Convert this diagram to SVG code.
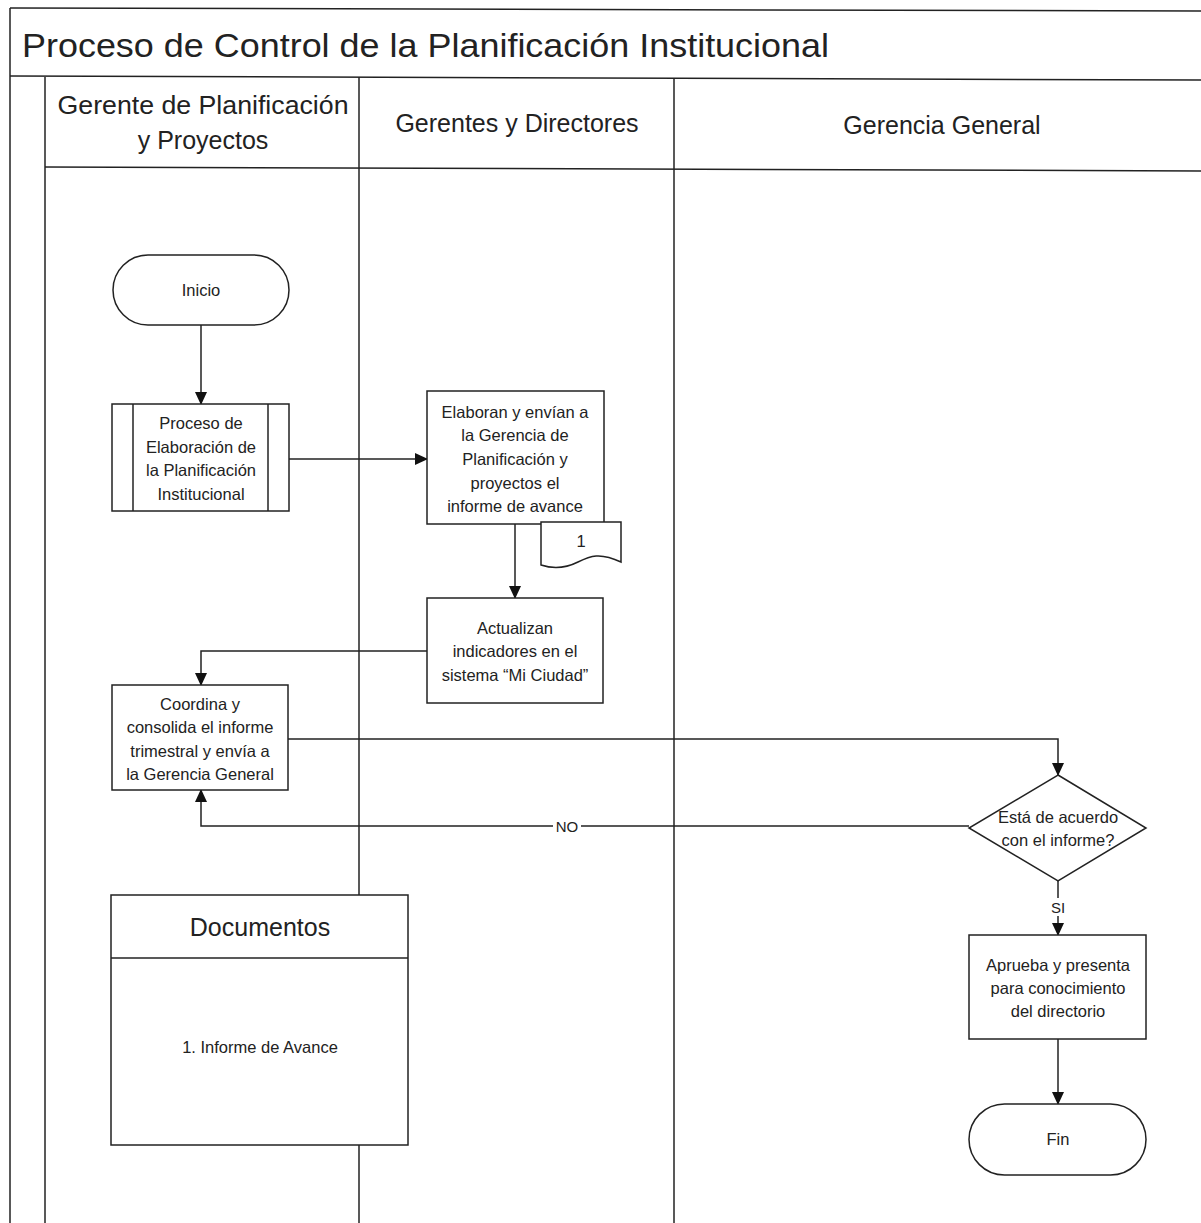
<svg xmlns="http://www.w3.org/2000/svg" width="1201" height="1223" viewBox="0 0 1201 1223">
<style>
.ln{stroke:#222;stroke-width:1.5;fill:none}
.box{stroke:#222;stroke-width:1.5;fill:#fff}
.t{font-family:"Liberation Sans",Arial,sans-serif;fill:#222;text-anchor:middle;font-size:16.5px}
.h{font-family:"Liberation Sans",Arial,sans-serif;fill:#222;text-anchor:middle;font-size:25px}
.lbl{font-family:"Liberation Sans",Arial,sans-serif;fill:#222;text-anchor:middle;font-size:15px}
</style>
<defs>
<marker id="ah" markerWidth="13" markerHeight="12" refX="12" refY="6" orient="auto" markerUnits="userSpaceOnUse">
<path d="M0,0 L13,6 L0,12 Z" fill="#111"/>
</marker>
</defs>
<rect width="1201" height="1223" fill="#fff"/>
<g id="frame">
<line class="ln" x1="10" y1="8" x2="1201" y2="11"/>
<line class="ln" x1="10" y1="8" x2="10" y2="1223"/>
<line class="ln" x1="10" y1="76" x2="1201" y2="80"/>
<line class="ln" x1="45" y1="77" x2="45" y2="1223"/>
<line class="ln" x1="45" y1="167" x2="1201" y2="171"/>
<line class="ln" x1="359" y1="77" x2="359" y2="1223"/>
<line class="ln" x1="674" y1="78" x2="674" y2="1223"/>
<text x="22" y="57" font-family="Liberation Sans,Arial,sans-serif" font-size="34" fill="#222" textLength="807" lengthAdjust="spacingAndGlyphs">Proceso de Control de la Planificación Institucional</text>
<text class="h" x="203" y="114" textLength="291" lengthAdjust="spacingAndGlyphs">Gerente de Planificación</text>
<text class="h" x="203" y="149">y Proyectos</text>
<text class="h" x="517" y="132">Gerentes y Directores</text>
<text class="h" x="942" y="134">Gerencia General</text>
</g>
<g id="connectors">
<line class="ln" x1="201" y1="325" x2="201" y2="404" marker-end="url(#ah)"/>
<line class="ln" x1="289" y1="459" x2="427" y2="459" marker-end="url(#ah)"/>
<line class="ln" x1="515" y1="524" x2="515" y2="598" marker-end="url(#ah)"/>
<polyline class="ln" points="427,651 201,651 201,685" marker-end="url(#ah)"/>
<polyline class="ln" points="288,739 1058,739 1058,775" marker-end="url(#ah)"/>
<polyline class="ln" points="969,826 201,826 201,790" marker-end="url(#ah)"/>
<line class="ln" x1="1058" y1="881" x2="1058" y2="935" marker-end="url(#ah)"/>
<line class="ln" x1="1058" y1="1039" x2="1058" y2="1104" marker-end="url(#ah)"/>
<rect x="553" y="817" width="28" height="18" fill="#fff"/>
<text class="lbl" x="567" y="832">NO</text>
<rect x="1049" y="898" width="18" height="18" fill="#fff"/>
<text class="lbl" x="1058" y="913">SI</text>
</g>
<g id="inicio">
<rect class="box" x="113" y="255" width="176" height="70" rx="35"/>
<text class="t" x="201" y="296">Inicio</text>
</g>
<g id="proceso">
<rect class="box" x="112" y="404" width="177" height="107"/>
<line class="ln" x1="133" y1="404" x2="133" y2="511"/>
<line class="ln" x1="268" y1="404" x2="268" y2="511"/>
<text class="t" x="201" y="429">Proceso de</text>
<text class="t" x="201" y="453">Elaboración de</text>
<text class="t" x="201" y="476">la Planificación</text>
<text class="t" x="201" y="500">Institucional</text>
</g>
<g id="elaboran">
<rect class="box" x="427" y="391" width="177" height="133"/>
<text class="t" x="515" y="418">Elaboran y envían a</text>
<text class="t" x="515" y="441">la Gerencia de</text>
<text class="t" x="515" y="465">Planificación y</text>
<text class="t" x="515" y="489">proyectos el</text>
<text class="t" x="515" y="512">informe de avance</text>
</g>
<g id="doc1">
<path class="box" d="M541,522 L621,522 L621,562 C600,552 590,556 578,562 C566,568 553,569 541,565 Z"/>
<text class="t" x="581" y="547">1</text>
</g>
<g id="actualizan">
<rect class="box" x="427" y="598" width="176" height="105"/>
<text class="t" x="515" y="634">Actualizan</text>
<text class="t" x="515" y="657">indicadores en el</text>
<text class="t" x="515" y="681">sistema “Mi Ciudad”</text>
</g>
<g id="coordina">
<rect class="box" x="112" y="685" width="176" height="105"/>
<text class="t" x="200" y="710">Coordina y</text>
<text class="t" x="200" y="733">consolida el informe</text>
<text class="t" x="200" y="757">trimestral y envía a</text>
<text class="t" x="200" y="780">la Gerencia General</text>
</g>
<g id="decision">
<polygon class="box" points="1058,775 1146,828 1058,881 969,828"/>
<text class="t" x="1058" y="823">Está de acuerdo</text>
<text class="t" x="1058" y="846">con el informe?</text>
</g>
<g id="aprueba">
<rect class="box" x="969" y="935" width="177" height="104"/>
<text class="t" x="1058" y="971">Aprueba y presenta</text>
<text class="t" x="1058" y="994">para conocimiento</text>
<text class="t" x="1058" y="1017">del directorio</text>
</g>
<g id="fin">
<rect class="box" x="969" y="1104" width="177" height="71" rx="35.5"/>
<text class="t" x="1058" y="1145">Fin</text>
</g>
<g id="documentos">
<rect class="box" x="111" y="895" width="297" height="250"/>
<line class="ln" x1="111" y1="958" x2="408" y2="958"/>
<text class="h" x="260" y="936" font-size="27">Documentos</text>
<text class="t" x="260" y="1053">1. Informe de Avance</text>
</g>
</svg>
